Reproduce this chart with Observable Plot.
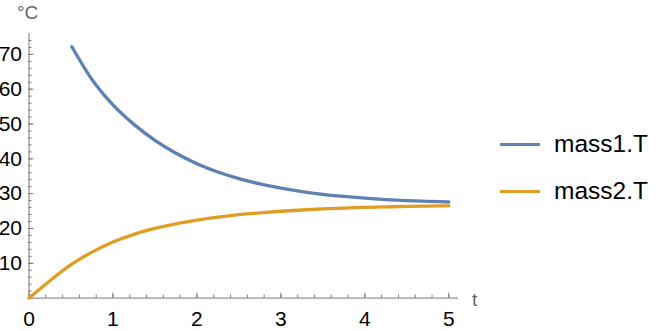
<!DOCTYPE html>
<html>
<head>
<meta charset="utf-8">
<script src="https://cdn.jsdelivr.net/npm/d3@7"></script>
<script src="https://cdn.jsdelivr.net/npm/@observablehq/plot@0.6"></script>
<style>
  html, body { margin: 0; padding: 0; background: #fff; }
  #wrap { position: relative; width: 665px; height: 331px; font-family: "Liberation Sans", Arial, sans-serif; }
  #wrap svg { position: absolute; left: 0; top: 0; }
  .lbl { position: absolute; color: #666; font-size: 19px; line-height: 1; }
  .leg { position: absolute; left: 500px; height: 26px; font-size: 24.5px; color: #000; line-height: 26px; display: flex; align-items: center; }
  .leg .sw { width: 40px; height: 3px; margin-right: 14px; }
</style>
</head>
<body>
<div id="wrap"></div>
<script>
const seriesNames = ["mass1.T", "mass2.T"];
const seriesColors = ["#5E81B5", "#E19C24"];

const t1 = [0.51, 0.75, 1, 1.25, 1.5, 1.75, 2, 2.25, 2.5, 2.75, 3, 3.25, 3.5, 3.75, 4, 4.25, 4.5, 4.75, 5];
const mass1 = [72.2, 62.8, 55.5, 49.9, 45.3, 41.6, 38.6, 36.2, 34.3, 32.8, 31.6, 30.6, 29.8, 29.2, 28.7, 28.3, 28.0, 27.8, 27.6];

const t2 = [0, 0.25, 0.5, 0.75, 1, 1.25, 1.5, 1.75, 2, 2.25, 2.5, 2.75, 3, 3.25, 3.5, 3.75, 4, 4.25, 4.5, 4.75, 5];
const mass2 = [0, 5.0, 9.6, 13.2, 16.1, 18.3, 20.0, 21.35, 22.4, 23.25, 23.95, 24.5, 24.95, 25.3, 25.6, 25.85, 26.05, 26.2, 26.32, 26.42, 26.5];

const xMajor = [0, 1, 2, 3, 4, 5];
const xMinor = d3.range(0, 5.01, 0.2);
const yMajor = [10, 20, 30, 40, 50, 60, 70];
const yMinor = d3.range(0, 76, 2);

const data = [
  ...t1.map((t, i) => ({t, v: mass1[i], s: seriesNames[0]})),
  ...t2.map((t, i) => ({t, v: mass2[i], s: seriesNames[1]}))
];

const axisGray = "#777";

const chart = Plot.plot({
  width: 665,
  height: 331,
  marginLeft: 28.5,
  marginRight: 207,
  marginTop: 33,
  marginBottom: 33.4,
  style: {fontFamily: "'Liberation Sans', Arial, sans-serif", background: "transparent"},
  x: {domain: [0, 5.115]},
  y: {domain: [0, 76]},
  color: {domain: seriesNames, range: seriesColors},
  marks: [
    Plot.ruleY([0], {stroke: axisGray, strokeWidth: 1}),
    Plot.ruleX([0], {stroke: axisGray, strokeWidth: 1}),
    Plot.axisX({ticks: xMinor, tickSize: -3, tickFormat: () => "", stroke: axisGray, label: null}),
    Plot.axisX({ticks: xMajor, tickSize: -5, tickFormat: () => "", stroke: axisGray, label: null}),
    Plot.axisX({ticks: xMajor, tickSize: 0, tickPadding: 13, fontSize: 21, fill: "#000", label: null, tickFormat: d => String(d)}),
    Plot.axisY({ticks: yMinor, tickSize: -3, tickFormat: () => "", stroke: axisGray, label: null}),
    Plot.axisY({ticks: yMajor, tickSize: -5, tickFormat: () => "", stroke: axisGray, label: null}),
    Plot.axisY({ticks: yMajor, tickSize: 0, tickPadding: 7, fontSize: 21, fill: "#000", label: null, tickFormat: d => String(d)}),
    Plot.line(data, {x: "t", y: "v", z: "s", stroke: "s", strokeWidth: 3.3, curve: "monotone-x"})
  ]
});

const wrap = document.getElementById("wrap");
wrap.appendChild(chart);

const yl = document.createElement("div");
yl.className = "lbl"; yl.textContent = "°C";
yl.style.left = "17px"; yl.style.top = "3px";
wrap.appendChild(yl);

const xl = document.createElement("div");
xl.className = "lbl"; xl.textContent = "t";
xl.style.left = "472px"; xl.style.top = "290px";
wrap.appendChild(xl);

const legTops = [131, 178];
seriesNames.forEach((name, i) => {
  const row = document.createElement("div");
  row.className = "leg";
  row.style.top = legTops[i] + "px";
  const sw = document.createElement("div");
  sw.className = "sw"; sw.style.background = seriesColors[i];
  const tx = document.createElement("span");
  tx.textContent = name;
  row.appendChild(sw); row.appendChild(tx);
  wrap.appendChild(row);
});
</script>
</body>
</html>
